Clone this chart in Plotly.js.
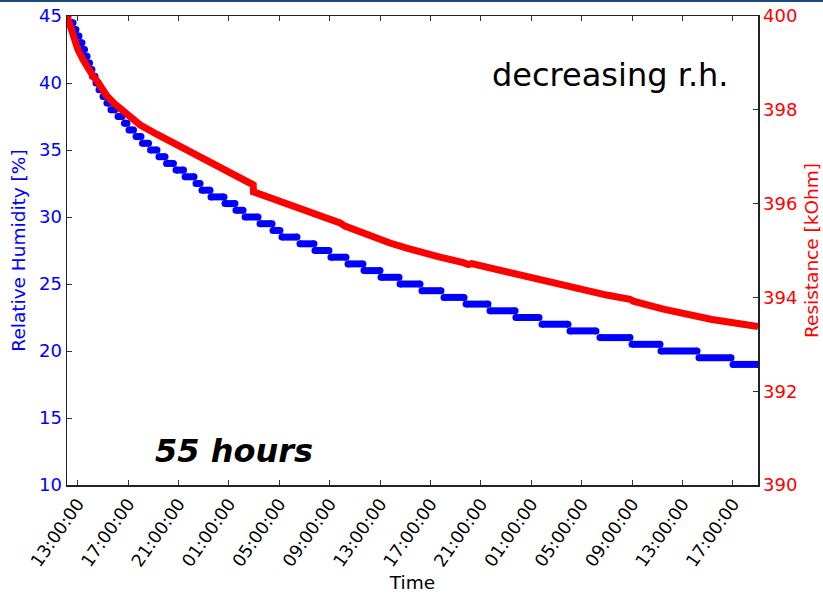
<!DOCTYPE html>
<html>
<head>
<meta charset="utf-8">
<script src="https://cdn.plot.ly/plotly-3.0.1.min.js"></script>
<style>
html,body{margin:0;padding:0;background:#fff;}
#bar{position:absolute;left:0;top:0;width:823px;height:2px;background:#1d4a7c;z-index:5;}
#chart{width:823px;height:595px;}
</style>
</head>
<body>
<div id="bar"></div>
<div id="chart"></div>
<script>
// Time axis: hours elapsed since the start of the record
var startTime = "2013-01-01 12:09:00";
var endHours = 54.84;

// Relative humidity [%], quantised in 0.5 % steps: level and the time span it holds
var rhLevels = [45.0, 44.5, 44.0, 43.5, 43.0, 42.5, 42.0, 41.5, 41.0, 40.5, 40.0, 39.5, 39.0, 38.5,
  38.0, 37.5, 37.0, 36.5, 36.0, 35.5, 35.0, 34.5, 34.0, 33.5, 33.0, 32.5, 32.0, 31.5, 31.0, 30.5,
  30.0, 29.5, 29.0, 28.5, 28.0, 27.5, 27.0, 26.5, 26.0, 25.5, 25.0, 24.5, 24.0, 23.5, 23.0, 22.5,
  22.0, 21.5, 21.0, 20.5, 20.0, 19.5, 19.0];
var rhStart = [0.00, 0.32, 0.56, 0.79, 1.03, 1.23, 1.43, 1.63, 1.83, 2.02, 2.30, 2.54, 2.86, 3.17,
  3.49, 4.05, 4.56, 4.92, 5.48, 5.99, 6.63, 7.30, 7.90, 8.65, 9.37, 10.24, 10.71, 11.43, 12.54, 13.41,
  14.13, 15.32, 16.35, 17.06, 18.49, 19.68, 20.95, 22.30, 23.57, 24.92, 26.43, 28.17, 29.92, 31.67, 33.57, 35.63,
  37.70, 39.92, 42.30, 44.84, 47.14, 50.16, 52.86];
var rhEnd = [0.08, 0.48, 0.71, 0.95, 1.19, 1.39, 1.59, 1.79, 1.98, 2.22, 2.46, 2.78, 3.02, 3.33,
  3.81, 4.37, 4.76, 5.28, 5.87, 6.47, 7.14, 7.78, 8.45, 9.25, 10.08, 10.56, 11.35, 12.46, 13.33, 13.97,
  15.16, 16.27, 16.90, 18.25, 19.60, 20.79, 22.14, 23.49, 24.84, 26.35, 28.02, 29.68, 31.51, 33.41, 35.56, 37.46,
  39.76, 41.98, 44.68, 47.06, 50.00, 52.70, 54.84];

// Resistance [kOhm]
var resHours = [0.00, 0.50, 0.87, 1.29, 1.67, 2.09, 2.48, 3.15, 3.81, 4.47, 5.79, 7.12, 8.44, 9.76,
  11.09, 12.40, 13.73, 14.78,
  14.80, 16.11, 17.70, 19.29, 20.34, 21.67, 22.06, 24.31, 25.63, 26.96, 28.02, 29.60, 31.45, 31.85,
  32.12, 34.10, 35.56, 36.75, 37.94, 39.39, 40.71, 41.51, 42.83, 44.68, 44.94, 47.33, 48.65, 49.98,
  51.19, 52.62, 53.81, 54.84];
var resValues = [400.00, 399.56, 399.28, 399.06, 398.87, 398.71, 398.58, 398.30, 398.12, 397.96, 397.68, 397.48, 397.29, 397.09,
  396.89, 396.72, 396.54, 396.40,
  396.25, 396.13, 395.97, 395.82, 395.72, 395.59, 395.52, 395.27, 395.16, 395.05, 394.96, 394.86, 394.74, 394.70,
  394.72, 394.59, 394.50, 394.42, 394.35, 394.26, 394.18, 394.14, 394.05, 393.96, 393.92, 393.75, 393.67, 393.59,
  393.53, 393.47, 393.42, 393.38];

var baseMs = Date.UTC(2013, 0, 1, 12, 9, 0);
function toTime(h) {
  if (h === null) return null;
  return new Date(baseMs + h * 3600000).toISOString().replace('T', ' ').slice(0, 19);
}

var rhX = [], rhY = [];
for (var i = 0; i < rhLevels.length; i++) {
  rhX.push(toTime(rhStart[i])); rhY.push(rhLevels[i]);
  if (rhEnd[i] !== rhStart[i]) { rhX.push(toTime(rhEnd[i])); rhY.push(rhLevels[i]); }
  rhX.push(null); rhY.push(null);
}

var traces = [
  {
    x: rhX, y: rhY, type: 'scatter', mode: 'lines+markers', yaxis: 'y',
    line: {color: '#0000ff', width: 7}, marker: {color: '#0000ff', size: 7},
    connectgaps: false, hoverinfo: 'skip', showlegend: false
  },
  {
    x: resHours.map(toTime), y: resValues, type: 'scatter', mode: 'lines', yaxis: 'y2',
    line: {color: '#ff0000', width: 7}, hoverinfo: 'skip', showlegend: false
  }
];

var font = 'DejaVu Sans, Bitstream Vera Sans, sans-serif';
var layout = {
  width: 823, height: 595,
  margin: {l: 67, r: 65, t: 16, b: 110, pad: 0},
  paper_bgcolor: '#ffffff', plot_bgcolor: '#ffffff',
  font: {family: font, size: 18, color: '#000'},
  showlegend: false,
  xaxis: {
    type: 'date', range: [toTime(0), toTime(endHours)],
    tickmode: 'linear', tick0: '2013-01-01 13:00:00', dtick: 14400000,
    tickformat: '%H:%M:%S', tickangle: -55,
    ticks: 'inside', ticklen: 5, tickwidth: 1, tickcolor: '#333',
    showline: true, linecolor: '#222', linewidth: 1.5, mirror: 'ticks',
    showgrid: false, zeroline: false,
    tickfont: {family: font, size: 17.5, color: '#000'},
    title: {text: 'Time', font: {family: font, size: 18.5, color: '#000'}, standoff: 6},
    automargin: false
  },
  yaxis: {
    range: [10, 45], tickmode: 'linear', tick0: 10, dtick: 5,
    ticks: 'inside', ticklen: 5, tickwidth: 1, tickcolor: '#333',
    showline: true, linecolor: '#222', linewidth: 1.5,
    showgrid: false, zeroline: false,
    tickfont: {family: font, size: 18, color: '#0000ff'},
    title: {text: 'Relative Humidity [%]', font: {family: font, size: 18.5, color: '#0000ff'}, standoff: 8},
    automargin: false
  },
  yaxis2: {
    overlaying: 'y', side: 'right',
    range: [390, 400], tickmode: 'linear', tick0: 390, dtick: 2,
    ticks: 'inside', ticklen: 5, tickwidth: 1, tickcolor: '#333',
    showline: true, linecolor: '#222', linewidth: 1.5,
    showgrid: false, zeroline: false,
    tickfont: {family: font, size: 18, color: '#ff0000'},
    title: {text: 'Resistance [kOhm]', font: {family: font, size: 18.5, color: '#ff0000'}, standoff: 8},
    automargin: false
  },
  annotations: [
    {xref: 'paper', yref: 'paper', x: 0.786, y: 0.874, xanchor: 'center', yanchor: 'middle',
     text: 'decreasing r.h.', showarrow: false, font: {family: font, size: 32, color: '#000'}},
    {xref: 'paper', yref: 'paper', x: 0.242, y: 0.072, xanchor: 'center', yanchor: 'middle',
     text: '<b><i>55 hours</i></b>', showarrow: false, font: {family: font, size: 32, color: '#000'}}
  ]
};

Plotly.newPlot('chart', traces, layout, {displayModeBar: false, staticPlot: true});
</script>
</body>
</html>
